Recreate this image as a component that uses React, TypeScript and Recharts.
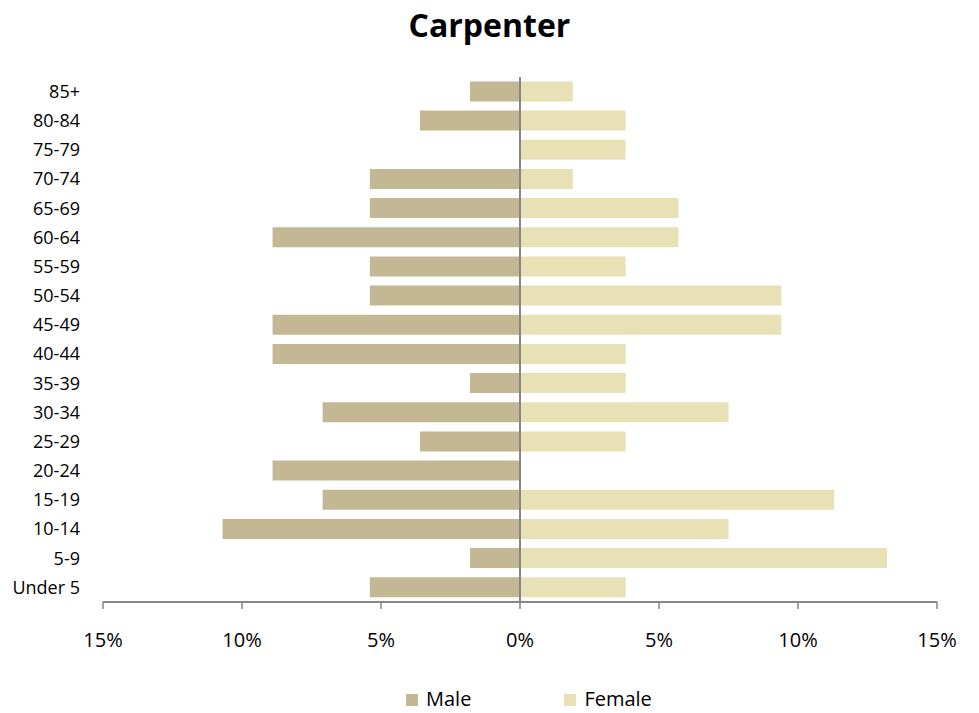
import { BarChart, Bar, XAxis, YAxis, Legend, ReferenceLine } from "recharts";

const ageGroups = ["85+", "80-84", "75-79", "70-74", "65-69", "60-64", "55-59", "50-54", "45-49", "40-44", "35-39", "30-34", "25-29", "20-24", "15-19", "10-14", "5-9", "Under 5"];
const malePct = [1.8, 3.6, 0, 5.4, 5.4, 8.9, 5.4, 5.4, 8.9, 8.9, 1.8, 7.1, 3.6, 8.9, 7.1, 10.7, 1.8, 5.4];
const femalePct = [1.9, 3.8, 3.8, 1.9, 5.7, 5.7, 3.8, 9.4, 9.4, 3.8, 3.8, 7.5, 3.8, 0, 11.3, 7.5, 13.2, 3.8];
const xTicks = [-15, -10, -5, 0, 5, 10, 15];

const MALE = "#C4B794";
const FEMALE = "#E8E1B6";
const AXIS = "#868686";
const FONT = "'Open Sans', sans-serif";

const data = ageGroups.map((age, i) => ({ age, male: -malePct[i], female: femalePct[i] }));

function LegendBox() {
  const items = [
    { label: "Male", color: MALE, gap: 93 },
    { label: "Female", color: FEMALE, gap: 0 },
  ];
  return (
    <div style={{ display: "flex", alignItems: "center", height: 24, fontFamily: FONT, fontSize: 20, lineHeight: "24px", color: "#000" }}>
      {items.map((it) => (
        <div key={it.label} style={{ display: "flex", alignItems: "center", marginRight: it.gap }}>
          <span style={{ display: "inline-block", width: 12, height: 12, background: it.color, marginRight: 8, marginTop: 2 }} />
          <span>{it.label}</span>
        </div>
      ))}
    </div>
  );
}

export default function App() {
  return (
    <div style={{ position: "absolute", left: 0, top: 0, width: 979, height: 713, background: "#fff" }}>
      <div style={{ position: "absolute", top: 9, left: 0, width: 979, textAlign: "center", fontFamily: FONT, fontWeight: 700, fontSize: 32, lineHeight: "32px" }}>
        Carpenter
      </div>
      <BarChart
        width={979}
        height={713}
        data={data}
        layout="vertical"
        stackOffset="sign"
        barCategoryGap="15%"
        margin={{ top: 77, right: 42, bottom: 61, left: 13 }}
      >
        <XAxis
          type="number"
          domain={[-15, 15]}
          ticks={xTicks}
          tickFormatter={(v) => `${Math.abs(v)}%`}
          tick={{ fill: "#000", fontSize: 20, fontFamily: FONT }}
          stroke={AXIS}
          axisLine={{ stroke: AXIS, strokeWidth: 2 }}
          tickLine={{ stroke: AXIS, strokeWidth: 1.5 }}
          tickSize={7}
          tickMargin={24}
          height={50}
          interval={0}
        />
        <YAxis
          type="category"
          dataKey="age"
          width={90}
          axisLine={false}
          tickLine={false}
          tickSize={0}
          tickMargin={23}
          interval={0}
          tick={{ fill: "#000", fontSize: 18, fontFamily: FONT }}
        />
        <Bar dataKey="male" name="Male" stackId="a" fill={MALE} isAnimationActive={false} />
        <Bar dataKey="female" name="Female" stackId="a" fill={FEMALE} isAnimationActive={false} />
        <ReferenceLine x={0} stroke={AXIS} strokeWidth={2} />
        <Legend
          layout="horizontal"
          verticalAlign="middle"
          align="center"
          wrapperStyle={{ top: 687, left: 406, width: "auto" }}
          content={() => <LegendBox />}
        />
      </BarChart>
    </div>
  );
}
